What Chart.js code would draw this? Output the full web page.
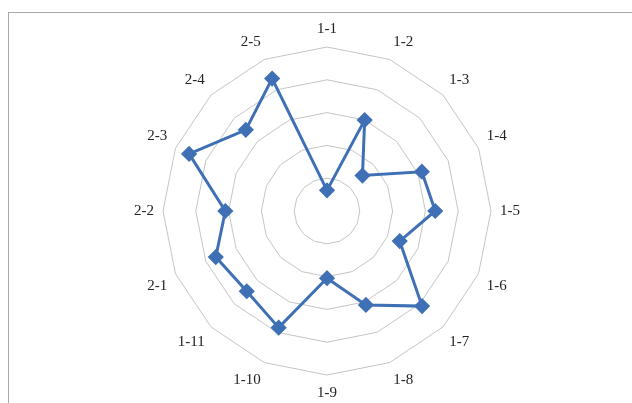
<!DOCTYPE html>
<html>
<head>
<meta charset="utf-8">
<script src="https://cdn.jsdelivr.net/npm/chart.js@4/dist/chart.umd.min.js"></script>
<style>
    html, body { margin: 0; padding: 0; background: #fff; }
    #wrap { position: relative; width: 632px; height: 403px; overflow: hidden; }
    #frame { position: absolute; left: 8px; top: 12px; width: 660px; height: 420px; border: 1px solid #a8a8a8; }
    #holder { position: absolute; left: 0; top: 0; width: 632px; height: 403px; }
</style>
</head>
<body>
<div id="wrap">
    <div id="frame"></div>
    <div id="holder"><canvas id="radarChart"></canvas></div>
</div>
<script>
const categories = ['1-1', '1-2', '1-3', '1-4', '1-5', '1-6', '1-7', '1-8',
    '1-9', '1-10', '1-11', '2-1', '2-2', '2-3', '2-4', '2-5'];
const values = [0.63, 3.0, 1.53, 3.13, 3.3, 2.4, 4.1, 3.1,
    2.05, 3.85, 3.46, 3.67, 3.1, 4.55, 3.5, 4.37];
const scaleMin = 0;
const scaleMax = 5;
const scaleStep = 1;

const ctx = document.getElementById('radarChart').getContext('2d');

new Chart(ctx, {
    type: 'radar',
    data: {
        labels: categories,
        datasets: [{
            data: values,
            borderColor: '#3f70b5',
            backgroundColor: 'rgba(0,0,0,0)',
            borderWidth: 3,
            pointStyle: 'rectRot',
            pointRadius: 6,
            pointBackgroundColor: '#3f70b5',
            pointBorderColor: '#3f70b5',
            fill: false
        }]
    },
    options: {
        responsive: true,
        maintainAspectRatio: false,
        animation: false,
        layout: {
            padding: { top: 20, bottom: 0, left: 22, right: 0 }
        },
        plugins: {
            legend: { display: false },
            tooltip: { enabled: false }
        },
        scales: {
            r: {
                min: scaleMin,
                max: scaleMax,
                ticks: { stepSize: scaleStep, display: false },
                angleLines: { display: false },
                grid: { color: '#c4c4c4', lineWidth: 1 },
                pointLabels: {
                    padding: 9,
                    color: '#222',
                    font: { family: 'Liberation Serif', size: 15 }
                }
            }
        }
    }
});
</script>
</body>
</html>
